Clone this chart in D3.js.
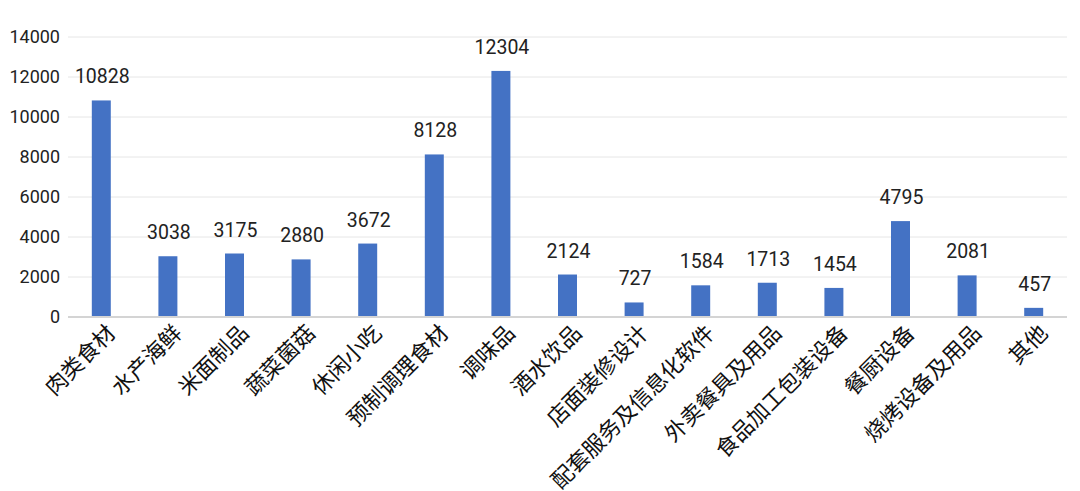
<!DOCTYPE html>
<html><head><meta charset="utf-8">
<script src="https://cdn.jsdelivr.net/npm/d3@7"></script>
<style>body{margin:0;background:#fff}</style>
</head><body>
<svg id="c" width="1080" height="491"></svg>
<script>
const categories = ["肉类食材","水产海鲜","米面制品","蔬菜菌菇","休闲小吃","预制调理食材","调味品","酒水饮品","店面装修设计","配套服务及信息化软件","外卖餐具及用品","食品加工包装设备","餐厨设备","烧烤设备及用品","其他"];
const values = [10828,3038,3175,2880,3672,8128,12304,2124,727,1584,1713,1454,4795,2081,457];
const yTicks = [0,2000,4000,6000,8000,10000,12000,14000];

const svg = d3.select("#c");
const mLeft = 68, mRight = 1067, mTop = 37, mBottom = 317;
const x = d3.scaleBand().domain(categories).range([mLeft, mRight]).paddingInner(0.715).paddingOuter(0.3575);
const y = d3.scaleLinear().domain([0, 14000]).range([mBottom, mTop]);

const num = "Roboto, 'Noto Sans', sans-serif";
const cjk = "'Noto Sans CJK SC', sans-serif";

svg.append("g").selectAll("line").data(yTicks.slice(1)).join("line")
  .attr("x1", mLeft).attr("x2", mRight).attr("y1", d => y(d)).attr("y2", d => y(d))
  .attr("stroke", "#e6e6e6").attr("stroke-width", 1);

svg.append("g").selectAll("text").data(yTicks).join("text")
  .attr("x", 60).attr("y", d => y(d)).attr("dy", "0.36em")
  .attr("text-anchor", "end").attr("font-family", num).attr("font-size", 18).attr("fill", "#222")
  .text(d => d);

svg.append("g").selectAll("rect").data(values).join("rect")
  .attr("x", (d, i) => x(categories[i])).attr("width", x.bandwidth())
  .attr("y", d => y(d)).attr("height", d => mBottom - y(d))
  .attr("fill", "#4472C4");

svg.append("line").attr("x1", mLeft).attr("x2", mRight).attr("y1", mBottom).attr("y2", mBottom)
  .attr("stroke", "#d4d4d4").attr("stroke-width", 2);

svg.append("g").selectAll("text").data(values).join("text")
  .attr("x", (d, i) => x(categories[i]) + x.bandwidth() / 2 + 1).attr("y", d => y(d) - 17)
  .attr("text-anchor", "middle").attr("font-family", num).attr("font-size", 19.5).attr("fill", "#222")
  .text(d => d);

svg.append("g").selectAll("text").data(categories).join("text")
  .attr("transform", d => `translate(${x(d) + x.bandwidth() / 2 + 3},${mBottom + 5}) rotate(-45)`)
  .attr("text-anchor", "end").attr("dy", "0.8em")
  .attr("font-family", cjk).attr("font-size", 22).attr("fill", "#111")
  .text(d => d);
</script>
</body></html>
